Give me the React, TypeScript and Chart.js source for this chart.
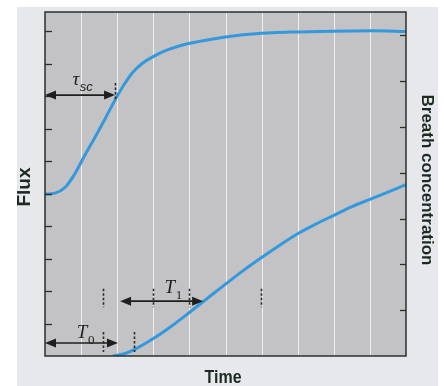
import React, { useEffect, useRef } from "react";
import { Chart, registerables } from "chart.js";

Chart.register(...registerables);

// Time axis (arbitrary units, 0..10)
const fluxTime = [0, 0.28, 0.56, 0.83, 1.11, 1.39, 1.67, 1.94, 2.2, 2.44, 2.7, 2.97, 3.39, 3.94, 4.5, 5, 5.83, 6.78, 7.97, 9.08, 10];
const fluxValue = [4.99, 5.02, 5.2, 5.62, 6.2, 6.75, 7.32, 7.89, 8.38, 8.75, 9.02, 9.21, 9.43, 9.62, 9.74, 9.83, 9.93, 9.98, 10.01, 10.02, 10.0];

const breathTime = [1.88, 2.2, 2.5, 3.0, 3.5, 4.0, 4.5, 5.0, 5.5, 6.0, 6.5, 7.0, 7.5, 8.0, 8.5, 9.0, 9.5, 10];
const breathValue = [0, 0.05, 0.15, 0.38, 0.65, 0.95, 1.26, 1.57, 1.87, 2.15, 2.42, 2.67, 2.88, 3.07, 3.26, 3.42, 3.58, 3.74];

const timeGrid = [1, 2, 3, 4, 5, 6, 7, 8, 9];
const fluxTicks = [1, 2, 3, 4, 5, 6, 7, 8, 9, 10];
const breathTicks = [1, 2, 3, 4, 5, 6, 7];

// Annotations (time / flux units)
const arrows = [
  { from: 0, to: 1.94, y: 8.04 },
  { from: 2.08, to: 4.38, y: 1.69 },
  { from: 0, to: 2.02, y: 0.4 },
];
const markers = [
  { x: 1.94, top: 8.41, bottom: 7.86 },
  { x: 1.61, top: 2.07, bottom: 1.5 },
  { x: 3.0, top: 2.07, bottom: 1.5 },
  { x: 3.98, top: 2.07, bottom: 1.5 },
  { x: 5.98, top: 2.07, bottom: 1.5 },
  { x: 1.61, top: 0.74, bottom: 0.12 },
  { x: 2.47, top: 0.74, bottom: 0.12 },
];

const BLUE = "#3499dc";
const DARK = "#28302b";

const decorPlugin = {
  id: "decor",
  beforeDraw(chart: any) {
    const { ctx, chartArea: a, scales } = chart;
    ctx.save();
    ctx.fillStyle = "#ffffff";
    ctx.fillRect(0, 0, chart.width, chart.height);
    ctx.fillStyle = "#e7e8ec";
    ctx.fillRect(17, 7, chart.width - 23, chart.height - 7);
    ctx.fillStyle = "#c3c3c5";
    ctx.fillRect(a.left, a.top, a.right - a.left, a.bottom - a.top);
    ctx.strokeStyle = "rgba(250,250,250,0.8)";
    ctx.lineWidth = 1;
    for (const t of timeGrid) {
      const x = Math.round(scales.x.getPixelForValue(t)) + 0.5;
      ctx.beginPath();
      ctx.moveTo(x, a.top);
      ctx.lineTo(x, a.bottom);
      ctx.stroke();
    }
    ctx.restore();
  },
  afterDatasetsDraw(chart: any) {
    const { ctx, chartArea: a, scales } = chart;
    const sx = scales.x, sy = scales.y, sy2 = scales.y2;
    ctx.save();
    // border
    ctx.strokeStyle = DARK;
    ctx.lineWidth = 1.5;
    ctx.strokeRect(a.left, a.top, a.right - a.left, a.bottom - a.top);
    // ticks
    ctx.lineWidth = 1.3;
    for (const t of fluxTicks) {
      const y = Math.round(sy.getPixelForValue(t)) + 0.5;
      ctx.beginPath();
      ctx.moveTo(a.left, y);
      ctx.lineTo(a.left + 7, y);
      ctx.stroke();
    }
    for (const t of breathTicks) {
      const y = Math.round(sy2.getPixelForValue(t)) + 0.5;
      ctx.beginPath();
      ctx.moveTo(a.right, y);
      ctx.lineTo(a.right - 6, y);
      ctx.stroke();
    }
    // arrows
    ctx.fillStyle = "#1c1f1d";
    ctx.strokeStyle = "#1c1f1d";
    for (const ar of arrows) {
      const x1 = sx.getPixelForValue(ar.from);
      const x2 = sx.getPixelForValue(ar.to);
      const y = sy.getPixelForValue(ar.y);
      ctx.lineWidth = 1.6;
      ctx.beginPath();
      ctx.moveTo(x1 + 8, y);
      ctx.lineTo(x2 - 8, y);
      ctx.stroke();
      const hl = 11, hh = 4.5;
      ctx.beginPath();
      ctx.moveTo(x1, y);
      ctx.lineTo(x1 + hl, y - hh);
      ctx.lineTo(x1 + hl, y + hh);
      ctx.closePath();
      ctx.fill();
      ctx.beginPath();
      ctx.moveTo(x2, y);
      ctx.lineTo(x2 - hl, y - hh);
      ctx.lineTo(x2 - hl, y + hh);
      ctx.closePath();
      ctx.fill();
    }
    // dotted markers
    ctx.setLineDash([2.5, 2]);
    ctx.lineWidth = 1.6;
    ctx.strokeStyle = "#2a2a2a";
    for (const m of markers) {
      const x = Math.round(sx.getPixelForValue(m.x)) + 0.5;
      ctx.beginPath();
      ctx.moveTo(x, sy.getPixelForValue(m.top));
      ctx.lineTo(x, sy.getPixelForValue(m.bottom));
      ctx.stroke();
    }
    ctx.setLineDash([]);
    // labels
    ctx.fillStyle = "#1c1f1d";
    ctx.textBaseline = "alphabetic";
    ctx.textAlign = "left";
    ctx.font = "italic 19px 'Liberation Serif', serif";
    ctx.fillText("\u03C4", sx.getPixelForValue(0.76), sy.getPixelForValue(8.34));
    ctx.font = "italic 13px 'Liberation Sans', sans-serif";
    ctx.fillText("sc", sx.getPixelForValue(0.96), sy.getPixelForValue(8.16));
    ctx.font = "italic 19px 'Liberation Serif', serif";
    ctx.fillText("T", sx.getPixelForValue(3.31), sy.getPixelForValue(1.95));
    ctx.font = "13px 'Liberation Serif', serif";
    ctx.fillText("1", sx.getPixelForValue(3.62), sy.getPixelForValue(1.77));
    ctx.font = "italic 19px 'Liberation Serif', serif";
    ctx.fillText("T", sx.getPixelForValue(0.88), sy.getPixelForValue(0.56));
    ctx.font = "13px 'Liberation Serif', serif";
    ctx.fillText("0", sx.getPixelForValue(1.19), sy.getPixelForValue(0.37));

    // axis titles
    ctx.fillStyle = "#1d2a22";
    ctx.textAlign = "center";
    ctx.textBaseline = "middle";
    ctx.save();
    ctx.translate(25, 187);
    ctx.rotate(-Math.PI / 2);
    ctx.font = "bold 19px 'Liberation Sans', Arial, sans-serif";
    ctx.fillText("Flux", 0, 0);
    ctx.restore();
    ctx.save();
    ctx.translate(427, 180);
    ctx.rotate(Math.PI / 2);
    ctx.font = "bold 17px 'Liberation Sans', Arial, sans-serif";
    ctx.fillText("Breath concentration", 0, 0);
    ctx.restore();
    ctx.save();
    ctx.translate(223, 378);
    ctx.scale(1, 1.12);
    ctx.font = "bold 16px 'Liberation Sans', Arial, sans-serif";
    ctx.fillText("Time", 0, 0);
    ctx.restore();
    ctx.restore();
  },
};

export default function App() {
  const ref = useRef<HTMLCanvasElement>(null);
  useEffect(() => {
    if (!ref.current) return;
    const chart = new Chart(ref.current, {
      type: "line",
      data: {
        datasets: [
          {
            label: "Flux",
            data: fluxTime.map((t, i) => ({ x: t, y: fluxValue[i] })),
            yAxisID: "y",
            borderColor: BLUE,
            borderWidth: 3,
            pointRadius: 0,
            cubicInterpolationMode: "monotone",
            fill: false,
          },
          {
            label: "Breath concentration",
            data: breathTime.map((t, i) => ({ x: t, y: breathValue[i] })),
            yAxisID: "y2",
            borderColor: BLUE,
            borderWidth: 3,
            pointRadius: 0,
            cubicInterpolationMode: "monotone",
            fill: false,
          },
        ],
      },
      options: {
        responsive: false,
        animation: false,
        layout: { padding: { left: 45, top: 12, right: 38, bottom: 30 } },
        plugins: { legend: { display: false }, tooltip: { enabled: false } },
        scales: {
          x: { type: "linear", min: 0, max: 10, display: false },
          y: { type: "linear", min: 0, max: 10.6, display: false },
          y2: { type: "linear", min: 0, max: 7.51, display: false, position: "right" },
        },
      },
      plugins: [decorPlugin],
    } as any);
    return () => chart.destroy();
  }, []);
  return (
    <div style={{ position: "fixed", left: 0, top: 0, width: 444, height: 386 }}>
      <canvas ref={ref} width={444} height={386} style={{ width: 444, height: 386, display: "block" }} />
    </div>
  );
}
